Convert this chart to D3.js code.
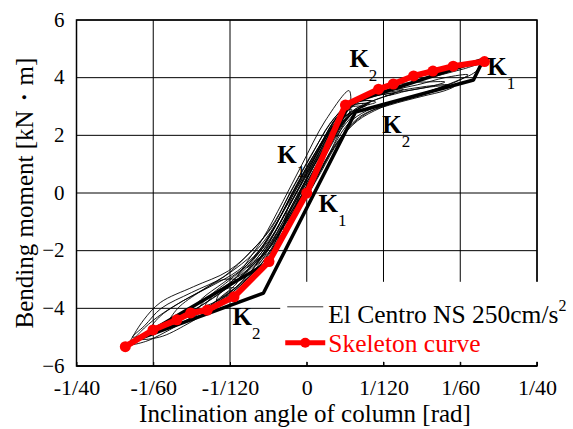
<!DOCTYPE html>
<html>
<head>
<meta charset="utf-8">
<script src="https://cdn.jsdelivr.net/npm/d3@7"></script>
<style>
  body { margin: 0; background: #fff; }
  text { font-family: "Liberation Serif", "Times New Roman", serif; }
</style>
</head>
<body>
<script>
// inclination angle in 1e-3 rad, bending moment in kN·m

const xTickValues = [-25, -16.667, -8.333, 0, 8.333, 16.667, 25];
const xTickLabels = ["-1/40", "-1/60", "-1/120", "0", "1/120", "1/60", "1/40"];
const yTickValues = [-6, -4, -2, 0, 2, 4, 6];

// skeleton curve (red)
const skeletonAngle  = [-19.7, -16.7, -14.1, -12.6, -10.8, -7.9, -4.1, 0, 4.2, 7.8, 9.4, 11.6, 13.7, 15.9, 19.3];
const skeletonMoment = [-5.33, -4.75, -4.40, -4.16, -4.06, -3.60, -2.38, 0, 3.05, 3.60, 3.78, 4.06, 4.23, 4.40, 4.56];

// bilinear model loop (thick black)
const modelAngle  = [-18.6, -4.7, 5.3, 18.1, 19.2, 4.7, -4.1];
const modelMoment = [-5.10, -3.47, 2.81, 3.92, 4.64, 3.12, -2.39];

// El Centro NS 250cm/s2 response loops (thin black), [angle, moment]
const loop1 = [[-19.3,-5.25],[-17.5,-5.15],[-15.5,-4.85],[-13,-4.4],[-10,-3.8],[-7,-3.1],[-4.5,-2.3],[-2.5,-1.3],[0.2,0],[2.5,1.4],[4.5,2.6],[6.5,3.1],[9,3.4],[10.5,3.6],[8,3.5],[5,3.2],[3,2.6],[1,1.6],[-1.5,0.2],[-3.5,-1.0],[-5.5,-1.85],[-8.5,-2.7],[-12.3,-3.25],[-15.9,-3.8],[-17.7,-4.4],[-19.1,-5.1]];
const loop2 = [[-18.9,-5.0],[-16.5,-4.75],[-13.5,-4.3],[-10.5,-3.7],[-7.5,-3.0],[-5,-2.2],[-2.8,-1.2],[-0.2,0.1],[2.2,1.5],[4.2,2.5],[6,3.0],[8,3.3],[9.5,3.45],[7,3.35],[4.5,3.05],[2.5,2.4],[0.5,1.3],[-1.8,0],[-3.8,-1.2],[-6,-2.0],[-9,-2.9],[-12.5,-3.45],[-15.8,-4.0],[-17.6,-4.6]];
const loop3 = [[-18.6,-5.05],[-16,-5.0],[-13,-4.55],[-10,-3.95],[-7.2,-3.2],[-4.8,-2.4],[-2.2,-1.0],[0.6,0.4],[3,1.9],[5,2.8],[6.5,3.05],[5.5,3.1],[3.5,2.7],[1.5,1.7],[-1,0.3],[-3.2,-1.0],[-5.2,-2.0],[-7.5,-2.7],[-10.5,-3.25],[-13.5,-3.75],[-16.2,-4.3],[-18,-4.8]];
const loop4 = [[-13,-4.3],[-11,-4.05],[-8.5,-3.5],[-6,-2.7],[-3.5,-1.6],[-1,-0.3],[1.5,1.0],[3.5,2.1],[5,2.7],[5.5,2.9],[3.5,2.5],[1,1.2],[-1.5,-0.2],[-4,-1.6],[-6.5,-2.5],[-9,-3.1],[-11.5,-3.7]];
const loop5 = [[-4,-2.2],[-1.5,-0.9],[1,0.5],[3,1.6],[5,2.4],[7,2.85],[10,3.2],[13,3.5],[16,3.85],[18.3,4.2],[18.8,4.45],[17,4.3],[14,4.05],[11,3.8],[8,3.5],[5.5,3.2],[3.5,2.6],[1.5,1.5],[-0.8,0],[-3,-1.4]];
const loop6 = [[-3.5,-2.0],[-1,-0.7],[1.5,0.7],[3.5,1.8],[5.5,2.5],[8,2.95],[11,3.3],[14,3.6],[16.5,3.9],[17.5,4.1],[15,4.0],[12,3.75],[9,3.55],[6.5,3.35],[4.5,3.0],[2.5,2.0],[0.3,0.7],[-2,-0.7]];
const loop7 = [[8.5,3.4],[11,3.55],[13.5,3.7],[15,3.85],[13,3.85],[10.5,3.8],[8.5,3.6]];
const loop8 = [[-2.5,-1.3],[0,0],[2.5,1.4],[4.5,2.4],[6.5,2.85],[9,3.1],[12,3.35],[14.5,3.6],[15.5,3.75],[13,3.7],[10,3.55],[7,3.4],[4.8,3.15],[2.8,2.3],[0.5,1.0],[-1.8,-0.3]];
const loop9 = [[-6.5,-2.6],[-4,-1.9],[-2,-0.9],[0,0.2],[2.5,1.7],[4.5,2.7],[6,3.05],[7,3.2],[5,3.1],[3,2.5],[0.8,1.2],[-1.5,-0.2],[-3.5,-1.4],[-5.5,-2.3]];
const loop10 = [[-7.5,-2.9],[-5.2,-2.3],[-3,-1.4],[-0.8,-0.1],[1.8,1.4],[3.8,2.4],[4.6,2.75],[4.6,3.55],[2,2.5],[-0.5,1.0],[-2.6,-0.3],[-4.8,-1.6],[-6.5,-2.4]];
const loop11 = [[-11,-3.9],[-9,-3.6],[-6.8,-3.0],[-4.5,-2.0],[-2,-0.7],[0.8,0.8],[3.2,2.2],[5.8,2.95],[7.5,3.15],[6,3.2],[3.8,2.8],[1.8,1.8],[-0.5,0.5],[-2.8,-0.8],[-5,-2.0],[-7.5,-2.9],[-10,-3.5]];
const loop12 = [[-5.5,-2.5],[-3.2,-1.7],[-1.2,-0.6],[1.2,0.9],[3.4,2.2],[5.2,2.85],[6.2,3.0],[4.6,2.95],[2.6,2.2],[0.2,0.8],[-2.2,-0.6],[-4.2,-1.8]];
const loop13 = [[-9.8,-3.75],[-8.6,-3.45],[-7.8,-3.3],[-8.5,-3.3],[-9.5,-3.5]];
const loop14 = [[-12,-4.15],[-9.5,-3.75],[-7,-3.15],[-4.8,-2.3],[-2.6,-1.0],[0,0.5],[2.6,1.9],[4.8,2.75],[3.2,2.45],[0.9,1.3],[-1.5,0],[-3.8,-1.35],[-6,-2.35],[-8.5,-3.05],[-11,-3.7]];
const loop15 = [[-8.5,-3.2],[-6,-2.6],[-3.8,-1.8],[-1.6,-0.5],[0.9,1.0],[3.0,2.1],[5.2,2.9],[6.8,3.1],[5.2,3.05],[3.0,2.4],[0.4,1.1],[-1.9,-0.2],[-4.0,-1.5],[-6.2,-2.4]];
const loop16 = [[-15,-4.5],[-12.5,-4.1],[-9.5,-3.5],[-7,-2.85],[-4.2,-1.75],[-1.8,-0.4],[0.5,0.9],[2.8,2.2],[4.9,2.9],[3.6,2.75],[1.3,1.6],[-1.1,0.3],[-3.4,-1.1],[-5.8,-2.1],[-8.5,-2.8],[-11.5,-3.4],[-14,-4.0]];
const loop17 = [[-1.5,-0.8],[1.2,0.6],[3.6,1.9],[6,2.7],[9,3.05],[12.5,3.35],[15,3.55],[16,3.7],[14,3.7],[11,3.55],[8,3.4],[5.5,3.15],[3.4,2.4],[1.2,1.2],[-0.8,-0.1]];
const loop18 = [[-17,-4.75],[-14.5,-4.6],[-12,-4.25],[-9.5,-3.65],[-7.5,-3.05],[-9,-3.0],[-11.5,-3.4],[-14,-3.85],[-16,-4.3]];
const responseLoops = [loop1, loop2, loop3, loop4, loop5, loop6, loop7, loop8, loop9,
  loop10, loop11, loop12, loop13, loop14, loop15, loop16, loop17, loop18];

// K labels: [angle, moment, subscript]
const kLabels = [
  [4.63, 4.37, "2"],
  [19.6, 4.09, "1"],
  [8.2, 2.08, "2"],
  [-3.2, 1.04, "1"],
  [1.27, -0.66, "1"],
  [-8.06, -4.58, "2"]
];

const canvWidth = 573, canvHeight = 429;
const margin = {top: 20, right: 36, bottom: 63, left: 76.5};
const width = canvWidth - margin.left - margin.right;
const height = canvHeight - margin.top - margin.bottom;

const svg = d3.select("body").append("svg")
  .attr("width", canvWidth)
  .attr("height", canvHeight);

const g = svg.append("g")
  .attr("transform", `translate(${margin.left},${margin.top})`);

const x = d3.scaleLinear().domain([-25, 25]).range([0, width]);
const y = d3.scaleLinear().domain([-6, 6]).range([height, 0]);

//grid
g.append("g").selectAll("line").data(xTickValues).enter().append("line")
  .attr("x1", d => x(d)).attr("x2", d => x(d))
  .attr("y1", 0).attr("y2", height)
  .attr("stroke", "#000").attr("stroke-width", 1);
g.append("g").selectAll("line").data(yTickValues).enter().append("line")
  .attr("y1", d => y(d)).attr("y2", d => y(d))
  .attr("x1", 0).attr("x2", width)
  .attr("stroke", "#000").attr("stroke-width", 1);

//axes
const xAxis = d3.axisBottom(x).tickValues(xTickValues)
  .tickFormat((d, i) => xTickLabels[i]).tickSizeInner(-4).tickSizeOuter(0).tickPadding(13);
const yAxis = d3.axisLeft(y).tickValues(yTickValues)
  .tickFormat(d3.format("d")).tickSizeInner(0).tickSizeOuter(0).tickPadding(12);

const gx = g.append("g").attr("transform", `translate(0,${height})`).call(xAxis);
const gy = g.append("g").call(yAxis);
[gx, gy].forEach(a => {
  a.select(".domain").remove();
  a.selectAll("text").attr("font-family", "Liberation Serif").attr("fill", "#000");
});
gx.selectAll("text").attr("font-size", 22).attr("dy", "0.71em");
gy.selectAll("text").attr("font-size", 21).attr("dy", "0.3em");

//loops
const loopLine = d3.line()
  .x(d => x(d[0])).y(d => y(d[1]))
  .curve(d3.curveCatmullRomClosed.alpha(0.5));

g.append("g").selectAll("path").data(responseLoops).enter().append("path")
  .attr("d", loopLine)
  .attr("fill", "none").attr("stroke", "#000").attr("stroke-width", 0.9);

const modelLine = d3.line().x(d => x(d[0])).y(d => y(d[1])).curve(d3.curveLinearClosed);
g.append("path")
  .attr("d", modelLine(modelAngle.map((a, i) => [a, modelMoment[i]])))
  .attr("fill", "none").attr("stroke", "#000").attr("stroke-width", 3.5)
  .attr("stroke-linejoin", "round");

const skeleton = skeletonAngle.map((a, i) => [a, skeletonMoment[i]]);
g.append("path")
  .attr("d", d3.line().x(d => x(d[0])).y(d => y(d[1]))(skeleton))
  .attr("fill", "none").attr("stroke", "#ff0000").attr("stroke-width", 6)
  .attr("stroke-linejoin", "round");
g.append("g").selectAll("circle").data(skeleton).enter().append("circle")
  .attr("cx", d => x(d[0])).attr("cy", d => y(d[1])).attr("r", 5.5)
  .attr("fill", "#ff0000");

//frame
g.append("rect").attr("width", width).attr("height", height)
  .attr("fill", "none").attr("stroke", "#000").attr("stroke-width", 1.5);

//K labels
const kg = g.append("g").selectAll("text").data(kLabels).enter().append("text")
  .attr("x", d => x(d[0])).attr("y", d => y(d[1]))
  .attr("font-size", 25).attr("font-weight", "bold");
kg.append("tspan").text("K");
kg.append("tspan").attr("dy", 14).attr("font-size", 17).attr("font-weight", "normal").text(d => d[2]);

//legend
const lg = g.append("g").attr("transform", `translate(${x(-1.9)},${y(-3.08)})`);
lg.append("rect").attr("x", -9).attr("y", 0).attr("width", width - x(-1.9) + 11).attr("height", 80).attr("fill", "#fff");
lg.append("line").attr("x1", -2).attr("x2", 34).attr("y1", 25).attr("y2", 25)
  .attr("stroke", "#000").attr("stroke-width", 0.8);
const t1 = lg.append("text").attr("x", 39).attr("y", 41).attr("font-size", 25.5).attr("fill", "#000");
t1.append("tspan").text("El Centro NS 250cm/s");
t1.append("tspan").attr("dy", -12).attr("font-size", 16).text("2");
lg.append("line").attr("x1", -4).attr("x2", 36).attr("y1", 61).attr("y2", 61)
  .attr("stroke", "#ff0000").attr("stroke-width", 5);
lg.append("circle").attr("cx", 16).attr("cy", 61).attr("r", 5).attr("fill", "#ff0000");
lg.append("text").attr("x", 39).attr("y", 70).attr("font-size", 25.5).attr("fill", "#ff0000")
  .text("Skeleton curve");

// bottom axis line and ticks over legend box
g.append("line").attr("x1", 0).attr("x2", width).attr("y1", height).attr("y2", height)
  .attr("stroke", "#000").attr("stroke-width", 1.5);
g.node().appendChild(gx.node());

//titles
svg.append("text")
  .attr("x", 305).attr("y", 422)
  .attr("text-anchor", "middle").attr("font-size", 25)
  .text("Inclination angle of column [rad]");

svg.append("text")
  .attr("transform", `translate(33,${margin.top + height / 2}) rotate(-90)`)
  .attr("text-anchor", "middle").attr("font-size", 25)
  .text("Bending moment [kN・m]");
</script>
</body>
</html>
